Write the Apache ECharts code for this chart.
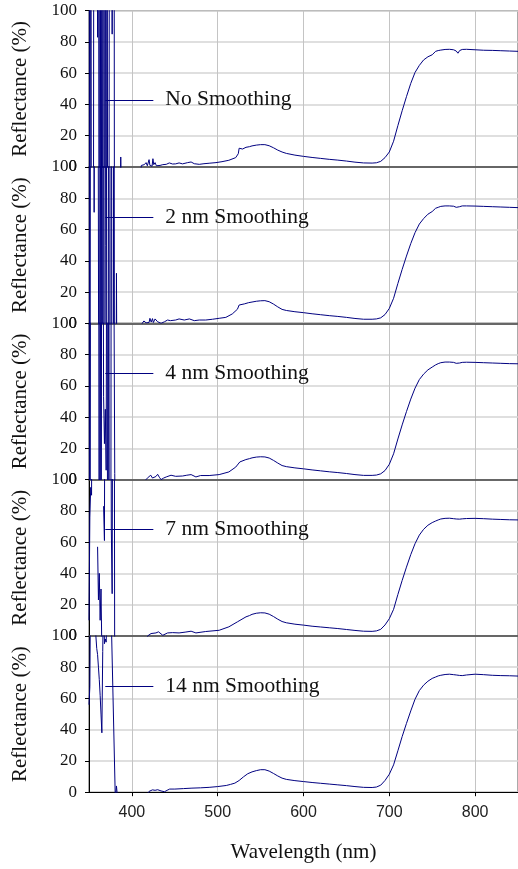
<!DOCTYPE html>
<html>
<head>
<meta charset="utf-8">
<script src="https://cdn.jsdelivr.net/npm/echarts@6/dist/echarts.min.js"></script>
<style>
html,body{margin:0;padding:0;background:#fff;}
#chart{width:518px;height:869px;}
</style>
</head>
<body>
<div id="chart"></div>
<script>
// ---- data ----
const labels = ['No Smoothing', '2 nm Smoothing', '4 nm Smoothing', '7 nm Smoothing', '14 nm Smoothing'];
const labelValues = [43, 68, 68, 68, 68];
const leaderWl = [369, 425];

// low-wavelength (noisy) part of each spectrum: wavelength (nm) / reflectance (%)
const noiseWl1 = [350,351,352,353,354,355,356,357,358,359,360,361,362,363,364,365,366,367,368,369,370,371,372,373,374,375,376,377,378,379,380,381,383,386,387,388,395,405,410,
  411,412,413,414.5,416.5,418,420,421,422,423.5,424.5,425.5,427,428.5,430,432.8,436,440,443.6,447.5,451,455,459,465,469,472.7,478.5,484,490,498,505,513,521,524,525,529,533,537];
const noiseR1 = [500,-400,500,-300,-400,-200,500,600,400,300,83,300,-300,400,-400,300,-200,500,-300,400,-400,300,-200,-300,400,500,300,85,300,400,-300,-200,-100,-50,6.4,-30,-20,-10,-5,
  1,2.2,0.5,1.5,2.8,0.8,4.7,1,2,0.5,5.3,1.5,2.8,0.8,2,1,1.5,1.7,2.6,1.9,2,2.6,2,2.8,3.2,2.1,1.7,2.1,2.4,2.8,3.4,4.3,6,8.5,12,11.5,12.6,13];

const noiseWl2 = [350,351,352,353,354,355,356,357,358,359,360,361,362,363,364,365,366,367,368,369,370,371,372,373,374,375,376,377,378,379,380,381,382,383,390,411,
  412,414,416.5,418,420,421,422.5,424,425,427,430,434,438,441.6,445,451,455,461,467,472.7,478.5,486,494,501.7,509.5,517,523,525,531,536];
const noiseR2 = [400,-300,400,400,400,400,71,400,400,400,400,400,-300,400,-300,400,-300,400,-300,50,400,-300,-400,400,-300,-400,400,-300,-400,400,-300,-300,32,-100,-50,-5,
  0,1.5,0.3,1.5,0.5,3.2,0.8,3,0.5,2.8,1,0,1,2.1,1.7,2.1,2.8,2.1,2.8,1.7,2.1,2.1,2.6,3.2,3.8,6,9,11.7,12.4,13.2];

const noiseWl3 = [350,351,352,353,361,362,363,364,365,366,367,368,369,370,371,372,373,374,375,376,377,378,379,380,381,390,416,
  416.5,419,422,424,426,428,430,432,434,437,440,445.6,451,459,464,469,474.6,480,490,501.7,513,521,525.8,532.8,537];
const noiseR3 = [300,-300,300,400,400,-300,400,-300,400,300,53,23,45,6,300,-300,300,-300,-400,300,400,400,400,4,-50,-50,-5,
  0,1.5,2.8,1,0,2,3.4,1.5,0,1,1.7,2.8,2.1,2.3,2.8,3.2,1.7,2.6,2.6,3.2,4.9,8,11.3,12.8,13.4];

const noiseWl4 = [350,351,352,353,354,355,360,361,362,363,364,365,366,367,368,369,370,375,376,377,378,379,380,385,415,
  418.4,422.3,428,431,436,441.6,447.5,455,462,469,474.6,486,501.7,513,523,533,537];
const noiseR4 = [10,76,95,90,300,null,57,23,40,10,30,-10,null,83,61,300,400,400,69,27,300,400,-50,-50,-5,
  0,1.5,1.9,2.6,0.4,1.9,2.1,1.9,2.4,3,1.9,2.8,3.6,5.8,9,12.2,13];

const noiseWl5 = [350,351,352,357,358,359,360,361,362,363,364,365,366,367,368,369,370,371,372,375,376,380.5,381,382,383,390,418,
  420,424,427,430,434,438,441,444,450,460,470,480,490,500,510,515,520,525,530,535];
const noiseR5 = [56,67.6,150,150,100,92,88,80,72,62,50,38,90,130,95,98,96,115,150,150,110,0,-2,4,-2,-5,-1,
  0.5,1.5,1.2,1.6,0.8,0.3,1.2,2,2,2.3,2.6,2.8,3.1,3.6,4.3,5,5.8,7.5,9.8,11.8];

// upper part (540–850 nm), shared wavelengths
const upperWl = [540,545,550,555,560,565,570,575,580,590,600,610,620,630,640,650,660,670,680,685,690,695,700,705,710,715,720,725,730,735,740,745,750,752,754,757,760,765,770,775,778,780,782,785,790,800,810,820,830,840,850];
const upperR1 = [13.5,14,14.3,14.3,13.6,12.3,10.8,9.6,8.7,7.6,6.8,6.1,5.5,4.9,4.4,3.8,3.1,2.6,2.5,2.7,3.6,6,9.6,16.5,26.5,36,45,53.5,60.5,65,68.5,70.5,71.8,71.5,74,74.5,74.8,75.2,75.3,75,74.2,72.8,74.5,75.2,75.3,75,74.7,74.6,74.4,74.2,74];
const upperR2 = [13.6,14.1,14.4,14.5,13.8,12.3,10.5,8.9,8.2,7.4,6.8,6.1,5.5,4.9,4.4,3.8,3.1,2.6,2.6,2.8,3.5,5.6,9.5,16,25.5,34.5,43,51,58,63.5,67,69.8,71.5,72,73.6,74.2,74.8,75.1,75.1,74.9,74.2,73.4,74.6,75.1,75.1,75,74.8,74.6,74.4,74.2,74];
const upperR3 = [13.9,14.4,14.6,14.5,13.8,12.3,10.6,9,8.3,7.5,6.9,6.2,5.6,5,4.5,3.9,3.2,2.7,2.7,2.9,3.7,5.8,9.8,16.5,26,35,43.5,51.5,58.5,64,67.5,70.2,72,72.2,73.4,74.2,74.8,75.2,75.2,75,74.4,73.8,74.6,75,75.1,75,74.8,74.6,74.4,74.2,74.1];
const upperR4 = [13.8,14.5,14.8,14.7,13.9,12.4,10.7,9.2,8.4,7.5,6.9,6.2,5.7,5.2,4.7,4.1,3.5,3,2.9,3.2,4.2,7,11,17,26.5,35.5,44,52,59,64.5,68.2,70.8,72.5,73,73.5,74.2,74.8,75.2,75.3,75,74.8,74.6,74.7,74.9,75.1,75.2,75,74.7,74.5,74.3,74.2];
const upperR5 = [13,13.8,14.4,14.4,13.5,12,10.4,9,8.2,7.4,6.8,6.2,5.7,5.2,4.7,4.2,3.6,3.1,3,3.3,4.5,7.5,11.5,17.5,26.5,35.6,44,52,59.5,65,68.5,71,72.8,73.3,73.7,74.4,74.8,75.3,75.5,75.2,75,74.8,74.7,74.6,75,75.5,75.2,74.8,74.6,74.5,74.3];

const noiseWl = [noiseWl1, noiseWl2, noiseWl3, noiseWl4, noiseWl5];
const noiseR = [noiseR1, noiseR2, noiseR3, noiseR4, noiseR5];
const upperR = [upperR1, upperR2, upperR3, upperR4, upperR5];

// ---- chart ----
const LINE = '#000080';
const SERIF = 'Liberation Serif';
const N = 5, TOP0 = 10.7, H = 156.3;

const grids = [], xAxes = [], yAxes = [], series = [];
for (let i = 0; i < N; i++) {
  const last = i === N - 1;
  grids.push({left: 89, width: 430, top: TOP0 + i * H, height: H,
    show: true, borderColor: '#555', borderWidth: 1, backgroundColor: 'transparent'});
  xAxes.push({
    type: 'value', gridIndex: i, min: 350, max: 850, splitNumber: 5,
    axisLine: {show: true, onZero: false, lineStyle: {color: last ? '#000' : '#444', width: last ? 1 : 1.5}},
    axisTick: {show: last, length: 4, lineStyle: {color: '#000'}},
    axisLabel: {show: last, showMinLabel: false, showMaxLabel: false,
      fontFamily: 'Liberation Sans', fontSize: 16, color: '#222', margin: 12},
    splitLine: {show: true, lineStyle: {color: '#c4c4c4', width: 1}},
    name: last ? 'Wavelength (nm)' : '', nameLocation: 'middle', nameGap: 50,
    nameTextStyle: {fontFamily: SERIF, fontSize: 21, color: '#111'}
  });
  yAxes.push({
    type: 'value', gridIndex: i, min: 0, max: 100, interval: 20,
    axisLine: {show: true, lineStyle: {color: '#000'}},
    axisTick: {show: true, length: 4, lineStyle: {color: '#000'}},
    axisLabel: {fontFamily: SERIF, fontSize: 17, color: '#111', margin: 12},
    splitLine: {show: true, lineStyle: {color: '#d4d4d4', width: 1.5}},
    name: 'Reflectance (%)', nameLocation: 'middle', nameGap: 58,
    nameTextStyle: {fontFamily: SERIF, fontSize: 21, color: '#111'}
  });
  const data = noiseWl[i].map((w, k) => [w, noiseR[i][k] === null ? '-' : noiseR[i][k]])
    .concat(upperWl.map((w, k) => [w, upperR[i][k]]));
  series.push({
    type: 'line', xAxisIndex: i, yAxisIndex: i, data: data,
    showSymbol: false, symbol: 'none', connectNulls: false, clip: true,
    lineStyle: {color: LINE, width: 1}, silent: true,
    markLine: {
      silent: true, symbol: ['none', 'none'], animation: false,
      lineStyle: {color: LINE, width: 1, type: 'solid'},
      label: {show: true, position: 'end', distance: 12, formatter: labels[i],
        fontFamily: SERIF, fontSize: 21.5, color: '#111'},
      data: [[{coord: [leaderWl[0], labelValues[i]]}, {coord: [leaderWl[1], labelValues[i]]}]]
    }
  });
}

const chart = echarts.init(document.getElementById('chart'), null, {renderer: 'canvas'});
chart.setOption({
  animation: false,
  backgroundColor: '#fff',
  grid: grids, xAxis: xAxes, yAxis: yAxes, series: series
});
</script>
</body>
</html>
